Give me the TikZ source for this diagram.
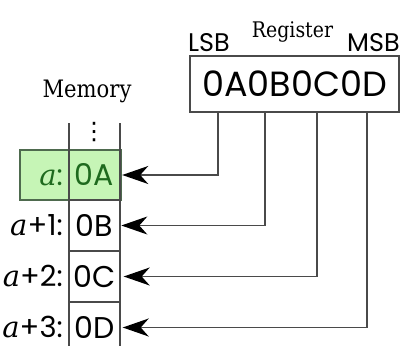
\documentclass[tikz,border=0pt]{standalone}
\usepackage{fontspec}
\setmainfont{DejaVu Serif}
\newfontfamily\serifn[FakeStretch=0.88]{DejaVu Serif}
\newfontfamily\pop{Poppins}
\newfontfamily\djs{DejaVu Sans}
\usetikzlibrary{arrows.meta}
\definecolor{linegray}{HTML}{4A4A4A}
\definecolor{cellgreen}{HTML}{C6F5B6}
\definecolor{greenedge}{HTML}{4E6A4E}
\definecolor{textgreen}{HTML}{1E6A1E}
\tikzset{
  cell/.style={inner sep=0pt, text height=21pt, text depth=0pt, font=\pop\fontsize{30}{30}\selectfont},
  addr/.style={anchor=east, inner sep=0pt, text height=20.3pt, text depth=0pt, font=\fontsize{29}{29}\selectfont},
  gridline/.style={draw=linegray, line width=1.1pt},
  conn/.style={draw=linegray, line width=1.4pt, -{Stealth[length=26pt, width=18pt, inset=8pt, color=black]}},
  serifcap/.style={anchor=base, inner sep=0pt},
  sanscap/.style={anchor=base, inner sep=0pt, font=\pop\fontsize{25.5}{25.5}\selectfont}
}
\begin{document}
\begin{tikzpicture}[x=1pt, y=-1pt]
\useasboundingbox (0,0) rectangle (405,346);
% green highlight
\draw[fill=cellgreen, draw=greenedge, line width=1.1pt] (20,150) rectangle (121,200);
% memory column
\draw[gridline] (69,123) -- (69,346);
\draw[gridline] (120,123) -- (120,346);
\draw[gridline] (69,200) -- (120,200);
\draw[gridline] (69,251) -- (120,251);
\draw[gridline] (69,302) -- (120,302);
\node[inner sep=0pt, font=\djs\fontsize{24}{24}\selectfont] (dots) at (94,132) {⋮};
% cells
\node[cell, text=textgreen] (c0) at (94.5,175) {0A};
\node[cell] (c1) at (94.5,225.5) {0B};
\node[cell] (c2) at (94.5,276.5) {0C};
\node[cell] (c3) at (94.5,327.5) {0D};
% address labels
\node[addr, text=textgreen] (l0) at (63,175) {\textit{a}\pop:};
\node[addr] (l1) at (63,225.5) {\textit{a}\pop+1:};
\node[addr] (l2) at (63,276.5) {\textit{a}\pop+2:};
\node[addr] (l3) at (63,327.5) {\textit{a}\pop+3:};
% titles
\node[serifcap, font=\serifn\fontsize{24}{24}\selectfont] (mem) at (87,97) {Memory};
\node[serifcap, font=\serifn\fontsize{21.5}{21.5}\selectfont] (regt) at (292.5,37) {Register};
\node[sanscap, anchor=base west] (lsb) at (188,51) {LSB};
\node[sanscap, anchor=base east] (msb) at (400,51) {MSB};
% register
\node[draw=linegray, line width=1.3pt, minimum width=209pt, minimum height=56pt, inner sep=0pt,
      font=\pop\fontsize{35}{35}\selectfont] (reg) at (294.5,84) {0A0B0C0D};
\coordinate (r0) at (218,112);
\coordinate (r1) at (265,112);
\coordinate (r2) at (317,112);
\coordinate (r3) at (367,112);
\draw[conn] (r0) |- ([xshift=8pt]c0.east);
\draw[conn] (r1) |- ([xshift=8pt]c1.east);
\draw[conn] (r2) |- ([xshift=8pt]c2.east);
\draw[conn] (r3) |- ([xshift=8pt]c3.east);
\end{tikzpicture}
\end{document}
